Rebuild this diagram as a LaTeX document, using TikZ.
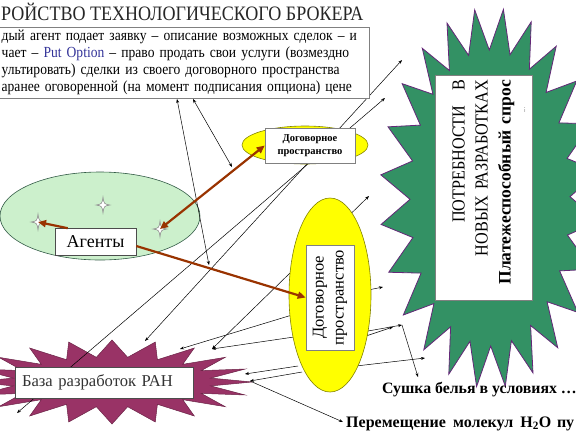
\documentclass[tikz,border=0pt]{standalone}
\usepackage{fontspec}
\setmainfont{Liberation Serif}
\newfontfamily\nrw{Liberation Serif}[FakeStretch=0.88]
\usetikzlibrary{shapes.geometric, arrows.meta, calc}
\definecolor{gstarfill}{RGB}{51,145,100}
\definecolor{gstarline}{RGB}{100,40,120}
\definecolor{pstarfill}{RGB}{153,51,102}
\definecolor{yel}{RGB}{255,255,0}
\definecolor{yelline}{RGB}{130,130,0}
\definecolor{lgreen}{RGB}{204,240,204}
\definecolor{lgreenline}{RGB}{50,90,70}
\definecolor{brownar}{RGB}{153,51,0}
\definecolor{putblue}{RGB}{51,51,153}
\definecolor{boxline}{RGB}{128,128,128}
\tikzset{sparkle/.pic={\filldraw[fill=white, draw=gray, line width=0.5pt] (0,-8) .. controls (1,-1) .. (7,0) .. controls (1,1) .. (0,8) .. controls (-1,1) .. (-7,0) .. controls (-1,-1) .. (0,-8) -- cycle;}}
\begin{document}
\begin{tikzpicture}[x=1pt,y=-1pt,
  conn/.style={draw=black, line width=0.5pt, {Stealth[length=4pt,width=3pt]}-{Stealth[length=4pt,width=3pt]}},
  conna/.style={draw=black, line width=0.5pt, -{Stealth[length=4pt,width=3pt]}},
  brownarr/.style={draw=brownar, line width=2.2pt, -{Triangle[length=8pt,width=7pt]}},
  brownboth/.style={draw=brownar, line width=2.2pt, {Triangle[length=8pt,width=7pt]}-{Triangle[length=8pt,width=7pt]}},
  whitebox/.style={draw=boxline, fill=white, line width=0.6pt},
  yellip/.style={ellipse, draw=yelline, fill=yel, line width=0.6pt, inner sep=0},
]
\useasboundingbox (0,0) rectangle (576,432);
\clip (0,0) rectangle (576,432);
% purple starburst
\begin{scope}[shift={(112,382)}]
\filldraw[fill=pstarfill, draw=pstarfill!70!black, line width=0.5pt] (140,0) \foreach \k in {0,...,19}{ -- ({140*cos(18*\k)},{42*sin(18*\k)}) -- ({100*cos(18*\k+9)},{25*sin(18*\k+9)}) } -- cycle;
\end{scope}
% green starburst
\begin{scope}[shift={(490,198)}]
\filldraw[fill=gstarfill, draw=gstarline, line width=0.8pt] ({110*cos(7)},{190*sin(7)}) \foreach \k in {0,...,23}{ -- ({110*cos(15*\k+7)},{190*sin(15*\k+7)}) -- ({80*cos(15*\k+14.5)},{148*sin(15*\k+14.5)}) } -- cycle;
\end{scope}
% green ellipse and stars
\node[ellipse, draw=lgreenline, fill=lgreen, minimum width=200, minimum height=88, inner sep=0, line width=0.6pt] (ge) at (100,216) {};
\coordinate (st1) at (103,205);
\coordinate (st2) at (38,222);
\coordinate (st3) at (160,229);
\pic at (st1) {sparkle};
\pic at (st2) {sparkle};
\pic at (st3) {sparkle};
% coordinates for thin connectors
\coordinate (p1) at (177,99); \coordinate (q1) at (209,265);
\coordinate (p2) at (193,99); \coordinate (q2) at (232,167);
\coordinate (a1) at (17,413); \coordinate (a2) at (385,98);
\coordinate (b1) at (145,341); \coordinate (b2) at (402,60);
\coordinate (c1) at (212,349); \coordinate (c2) at (369,196);
\coordinate (t1s) at (292,315); \coordinate (t1e) at (180,349);
\coordinate (t2s) at (294,337);
\coordinate (t3s) at (298,366); \coordinate (t3e) at (245,374);
\coordinate (t4s) at (302,372); \coordinate (t4e) at (250,381);
\coordinate (pe) at (343,422);
\coordinate (r1s) at (368,290); \coordinate (r1e) at (383,287);
\coordinate (r2s) at (366,336); \coordinate (r2e) at (393,327);
\coordinate (r3s) at (368,331); \coordinate (r3e) at (402,325);
\coordinate (sue) at (418,377);
\coordinate (r4s) at (356,366); \coordinate (r4e) at (425,358);
\draw[conn] (p1) -- (q1);
\draw[conn] (p2) -- (q2);
\draw[conn] (a1) -- (a2);
\draw[conn] (b1) -- (b2);
\draw[conn] (c1) -- (c2);
\draw[conna] (t1s) -- (t1e);
\draw[conna] (t2s) -- (c1);
\draw[conna] (t3s) -- (t3e);
\draw[conna] (t4s) -- (t4e);
\draw[conna] (t4e) -- (pe);
\draw[conna] (r1s) -- (r1e);
\draw[conna] (r2s) -- (r2e);
\draw[conna] (r3s) -- (r3e);
\draw[conna] (r3e) -- (sue);
\draw[conna] (r4s) -- (r4e);
% yellow ellipses
\node[yellip, minimum width=126, minimum height=38] (se) at (305,145) {};
\node[yellip, minimum width=82, minimum height=194] (te) at (330,295) {};
% boxes
\node[whitebox, minimum width=90, minimum height=35, font=\bfseries\fontsize{10.5}{13}\selectfont, align=center, inner sep=0] (sebox) at (310,145.5) {Договорное\\пространство};
\node[whitebox, rotate=90, minimum width=105, minimum height=48, font=\fontsize{16.5}{20}\selectfont, align=center, inner sep=0] (tebox) at (330,297.5) {Договорное\\пространство};
\node[whitebox, anchor=north east, text width=364, inner xsep=4, inner ysep=3, align=left, font=\nrw\fontsize{15.4}{17}\selectfont] (para) at (370,27) {дый агент подает заявку – описание возможных сделок – и\\чает – {\color{putblue}Put Option} – право продать свои услуги (возмездно\\ультировать) сделки из своего договорного пространства\\аранее оговоренной (на момент подписания опциона) цене};
\node[anchor=base west, inner sep=0, font=\nrw\fontsize{20.5}{22}\selectfont, text=black!85] (title) at (1,20) {РОЙСТВО ТЕХНОЛОГИЧЕСКОГО БРОКЕРА};
\node[whitebox, rotate=90, minimum width=225, minimum height=97, text width=215, align=right, inner xsep=5, font=\nrw\fontsize{18.4}{23}\selectfont] (gbox) at (483.5,187.5) {ПОТРЕБНОСТИ\hspace{0.8em}В\\НОВЫХ РАЗРАБОТКАХ\\{\normalfont\bfseries\fontsize{17.5}{23}\selectfont Платежеспособный спрос}};
\node[rotate=90, font=\fontsize{5}{6}\selectfont, inner sep=0] (gdots) at (525,110) {....};
\node[whitebox, draw=black!70, minimum width=81, minimum height=27, font=\fontsize{18}{20}\selectfont, inner sep=0] (agents) at (95.5,242) {Агенты};
\node[whitebox, draw=black!70, minimum width=178, minimum height=31, text width=164, align=left, inner xsep=7, inner ysep=0, font=\fontsize{16.6}{20}\selectfont, text=black!80] (baza) at (104,382.5) {База разработок РАН};
\node[anchor=base west, inner sep=0, font=\bfseries\fontsize{15.8}{18}\selectfont] (sushka) at (382,393) {Сушка белья в условиях …};
\node[anchor=base west, inner sep=0, font=\bfseries\fontsize{16}{18}\selectfont] (perem) at (346,427) {Перемещение\hspace{0.45em}молекул\hspace{0.45em}H\textsubscript{2}O\hspace{0.35em}пу};
% brown arrows
\draw[brownarr] ([xshift=13pt]agents.north west) -- (st2);
\draw[brownboth] (st3) -- (sebox.west);
\draw[brownarr] ([yshift=-4pt]agents.east) -- (tebox.north);
\end{tikzpicture}
\end{document}
